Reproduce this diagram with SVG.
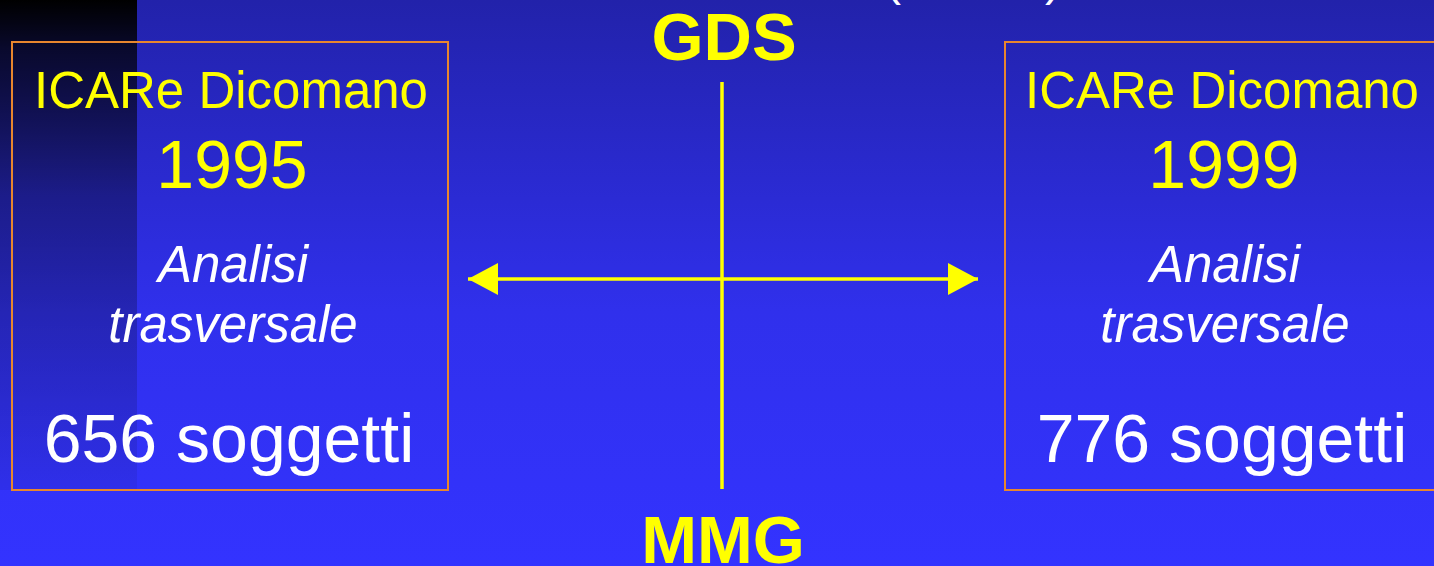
<svg xmlns="http://www.w3.org/2000/svg" width="1434" height="566" viewBox="0 0 1434 566">
  <defs>
    <linearGradient id="bg" x1="0" y1="0" x2="0" y2="1">
      <stop offset="0" stop-color="#2222AA"/>
      <stop offset="0.55" stop-color="#3030EC"/>
      <stop offset="1" stop-color="#3333FF"/>
    </linearGradient>
    <linearGradient id="bar" x1="0" y1="0" x2="0" y2="1">
      <stop offset="0" stop-color="#000000" stop-opacity="1"/>
      <stop offset="0.1" stop-color="#000000" stop-opacity="0.75"/>
      <stop offset="0.4" stop-color="#000000" stop-opacity="0.35"/>
      <stop offset="1" stop-color="#000000" stop-opacity="0.06"/>
    </linearGradient>
    <marker id="ah" viewBox="0 0 30 32" refX="30" refY="16" markerWidth="30" markerHeight="32" markerUnits="userSpaceOnUse" orient="auto-start-reverse">
      <path d="M0,0 L30,16 L0,32 Z" fill="#FFFF00"/>
    </marker>
    <style>
      .box { fill: none; stroke: #E8862E; stroke-width: 2; }
      .t { font-family: "Liberation Sans", Arial, sans-serif; text-anchor: middle; }
      .y { fill: #FFFF00; }
      .w { fill: #FFFFFF; }
      .hd { font-size: 51px; }
      .yr { font-size: 68px; }
      .it { font-size: 51px; font-style: italic; }
      .n { font-size: 68px; }
      .ax { font-size: 67px; font-weight: bold; }
      .ln { stroke: #FFFF00; stroke-width: 3.5; fill: none; }
    </style>
  </defs>
  <rect x="0" y="0" width="1434" height="566" fill="url(#bg)"/>
  <rect x="0" y="0" width="137" height="490" fill="url(#bar)"/>

  <text class="t w" x="893" y="-5" font-size="48">(</text>
  <text class="t w" x="1053" y="-5" font-size="48">)</text>

  <g id="connectors">
    <line class="ln" x1="722" y1="82" x2="722" y2="489"/>
    <line class="ln" x1="468" y1="279" x2="978" y2="279" marker-start="url(#ah)" marker-end="url(#ah)"/>
  </g>

  <g id="gds">
    <text class="t y ax" x="724" y="60">GDS</text>
  </g>
  <g id="mmg">
    <text class="t y ax" x="723" y="563">MMG</text>
  </g>

  <g id="box1995">
    <rect class="box" x="12" y="42" width="436" height="448"/>
    <text class="t y hd" x="231" y="108">ICARe Dicomano</text>
    <text class="t y yr" x="232" y="188">1995</text>
    <text class="t w it" x="233" y="282">Analisi</text>
    <text class="t w it" x="233" y="342">trasversale</text>
    <text class="t w n" x="229" y="462">656 soggetti</text>
  </g>

  <g id="box1999">
    <rect class="box" x="1005" y="42" width="436" height="448"/>
    <text class="t y hd" x="1222" y="108">ICARe Dicomano</text>
    <text class="t y yr" x="1224" y="188">1999</text>
    <text class="t w it" x="1225" y="282">Analisi</text>
    <text class="t w it" x="1225" y="342">trasversale</text>
    <text class="t w n" x="1222" y="462">776 soggetti</text>
  </g>
</svg>
